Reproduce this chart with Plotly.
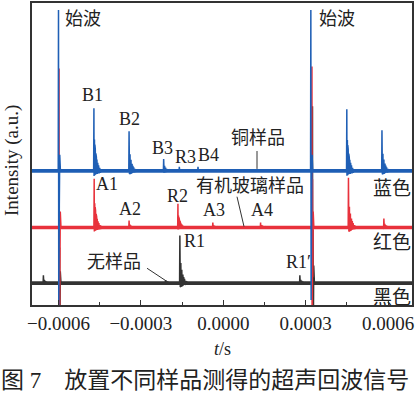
import plotly.graph_objects as go

# ---------------- data ----------------
# baseline offsets of the three stacked traces (a.u.)
offset_blue, offset_red, offset_black = 135, 78, 22

# initial waves ("始波"): time (s), upward and downward swing (a.u.)
blue_init_t = [-0.000600, 0.000319]
blue_init_up = [162, 162]
blue_init_dn = [140, 130]
red_init_t = [-0.000598, 0.000323]
red_init_up = [160, 162]
red_init_dn = [200, 200]
black_init_t = [-0.000598, 0.000325]
black_init_up = [120, 178]
black_init_dn = [200, 200]

# echoes: time (s), peak height above baseline (a.u.)
blue_echo_t = [-0.000471, -0.000343, -0.000217, -0.000160, -0.000092, 0.000450, 0.000578]
blue_echo_a = [63, 40, 12, 4, 4, 62, 41]
red_echo_t = [-0.000470, -0.000343, -0.000165, -0.000038, 0.000136, 0.000456, 0.000585]
red_echo_a = [49, 7, 24, 5, 5, 50, 9]
black_echo_t = [-0.000655, -0.000210, -0.000158, 0.000279]
black_echo_a = [8, 3, 48, 8]

x_ticks = [-0.0006, -0.0003, 0.0, 0.0003, 0.0006]

# pulse shapes (time offsets in microseconds, relative amplitude)
INIT_DT = [-1.0, 0.0, 1.0, 2.0, 3.0, 4.5, 7.0]
INIT_UP = [0, 1, 0, 0.30, 0, 0.10, 0]
INIT_DN = [0, 0, 1, 0, 0.25, 0, 0]
ECHO_DT = [-1, 0, 0.5, 1.0, 1.5, 2.0, 2.8, 3.5, 4.3, 5.0, 6.0, 7.0, 8.0, 9.0, 10.0, 11.0,
           12.5, 14.0, 15.5, 17.0, 19.0, 21.0, 23.5, 26.0, 30.0]
ECHO_REL = [0, 1, -0.08, 0.6, -0.08, 0.5, -0.07, 0.42, -0.07, 0.35, -0.06, 0.28, -0.06, 0.22,
            -0.05, 0.18, -0.05, 0.13, -0.04, 0.09, -0.04, 0.05, -0.03, 0.02, 0]

X_LO, X_HI = -0.0006965, 0.0006874
Y_LO, Y_HI = 0, 304

BLUE, RED, BLACK = "#1f5fb5", "#e8323c", "#333333"
FONT = "Liberation Serif, Times New Roman, Noto Sans CJK SC"


def build(offset, it, iu, idn, et, ea):
    events = []
    for t0, u, d in zip(it, iu, idn):
        pts = [(t0 + dt * 1e-6, offset + u * a - d * b) for dt, a, b in zip(INIT_DT, INIT_UP, INIT_DN)]
        events.append((t0, pts))
    for t0, amp in zip(et, ea):
        pts = [(t0 + dt * 1e-6, offset + amp * r) for dt, r in zip(ECHO_DT, ECHO_REL)]
        events.append((t0, pts))
    events.sort(key=lambda e: e[0])
    xs, ys = [X_LO], [offset]
    for _, pts in events:
        for x, y in pts:
            xs.append(x)
            ys.append(y)
    xs.append(X_HI)
    ys.append(offset)
    return xs, ys


fig = go.Figure()
series = [
    (offset_black, black_init_t, black_init_up, black_init_dn, black_echo_t, black_echo_a, BLACK),
    (offset_red, red_init_t, red_init_up, red_init_dn, red_echo_t, red_echo_a, RED),
    (offset_blue, blue_init_t, blue_init_up, blue_init_dn, blue_echo_t, blue_echo_a, BLUE),
]
for off, it, iu, idn, et, ea, col in series:
    fig.add_trace(go.Scatter(x=[X_LO, X_HI], y=[off, off], mode="lines",
                             line=dict(color=col, width=3.6), hoverinfo="skip", showlegend=False))
    xs, ys = build(off, it, iu, idn, et, ea)
    fig.add_trace(go.Scatter(x=xs, y=ys, mode="lines",
                             line=dict(color=col, width=1.5), showlegend=False))

W, H = 415, 394
ML, MR, MT, MB = 32, 3, 1, 89
PW, PH = W - ML - MR, H - MT - MB


def px(x, y):
    return (x - ML) / PW, (MT + PH - y) / PH


annotations = []


def label(text, x, y, size=18, xanchor="center"):
    X, Y = px(x, y)
    annotations.append(dict(text=text, x=X, y=Y, xref="paper", yref="paper", showarrow=False,
                            xanchor=xanchor, yanchor="middle",
                            font=dict(family=FONT, size=size, color="#222")))


label("始波", 83, 17)
label("始波", 337, 17)
label("B1", 92, 94)
label("B2", 129, 118)
label("B3", 162, 147)
label("R3", 185, 156)
label("B4", 208, 154)
label("铜样品", 258, 137)
label("A1", 107, 183)
label("有机玻璃样品", 250, 185)
label("A2", 130, 208)
label("R2", 177, 195)
label("A3", 214, 209)
label("A4", 262, 209)
label("蓝色", 413, 188, size=19, xanchor="right")
label("红色", 413, 242, size=19, xanchor="right")
label("黑色", 413, 297, size=19, xanchor="right")
label("R1", 194, 241)
label("无样品", 114, 262)
label("R1′", 298, 262)
label("<i>t</i>/s", 222, 349, size=18)
label("图 7　放置不同样品测得的超声回波信号", 205, 381, size=23)

X, Y = px(12, 160)
annotations.append(dict(text="Intensity (a.u.)", x=X, y=Y, xref="paper", yref="paper",
                        showarrow=False, textangle=-90, xanchor="center", yanchor="middle",
                        font=dict(family=FONT, size=19, color="#222")))

shapes = []
for (x0, y0, x1, y1) in [(257, 150, 257, 168), (237, 196, 244, 226), (147, 268, 168, 282)]:
    a0, b0 = px(x0, y0)
    a1, b1 = px(x1, y1)
    shapes.append(dict(type="line", xref="paper", yref="paper", x0=a0, y0=b0, x1=a1, y1=b1,
                       line=dict(color="#333", width=1)))

fig.update_layout(
    width=W, height=H, margin=dict(l=ML, r=MR, t=MT, b=MB),
    paper_bgcolor="white", plot_bgcolor="white",
    annotations=annotations, shapes=shapes,
    xaxis=dict(range=[X_LO, X_HI], tickvals=x_ticks, tickformat=".4f",
               ticks="inside", ticklen=5, tickwidth=1, tickcolor="#333",
               minor=dict(ticks="inside", ticklen=3, tickcolor="#333", dtick=0.00015,
                          tick0=-0.0006, showgrid=False),
               showline=True, linecolor="#333", linewidth=1.5, mirror=True,
               showgrid=False, zeroline=False,
               tickfont=dict(family=FONT, size=19, color="#222")),
    yaxis=dict(range=[Y_LO, Y_HI], showticklabels=False, ticks="",
               showline=True, linecolor="#333", linewidth=1.5, mirror=True,
               showgrid=False, zeroline=False),
)

fig.write_html("out.html", config={"displayModeBar": False},
               post_script="document.body.style.margin='0';document.body.style.overflow='hidden';")
